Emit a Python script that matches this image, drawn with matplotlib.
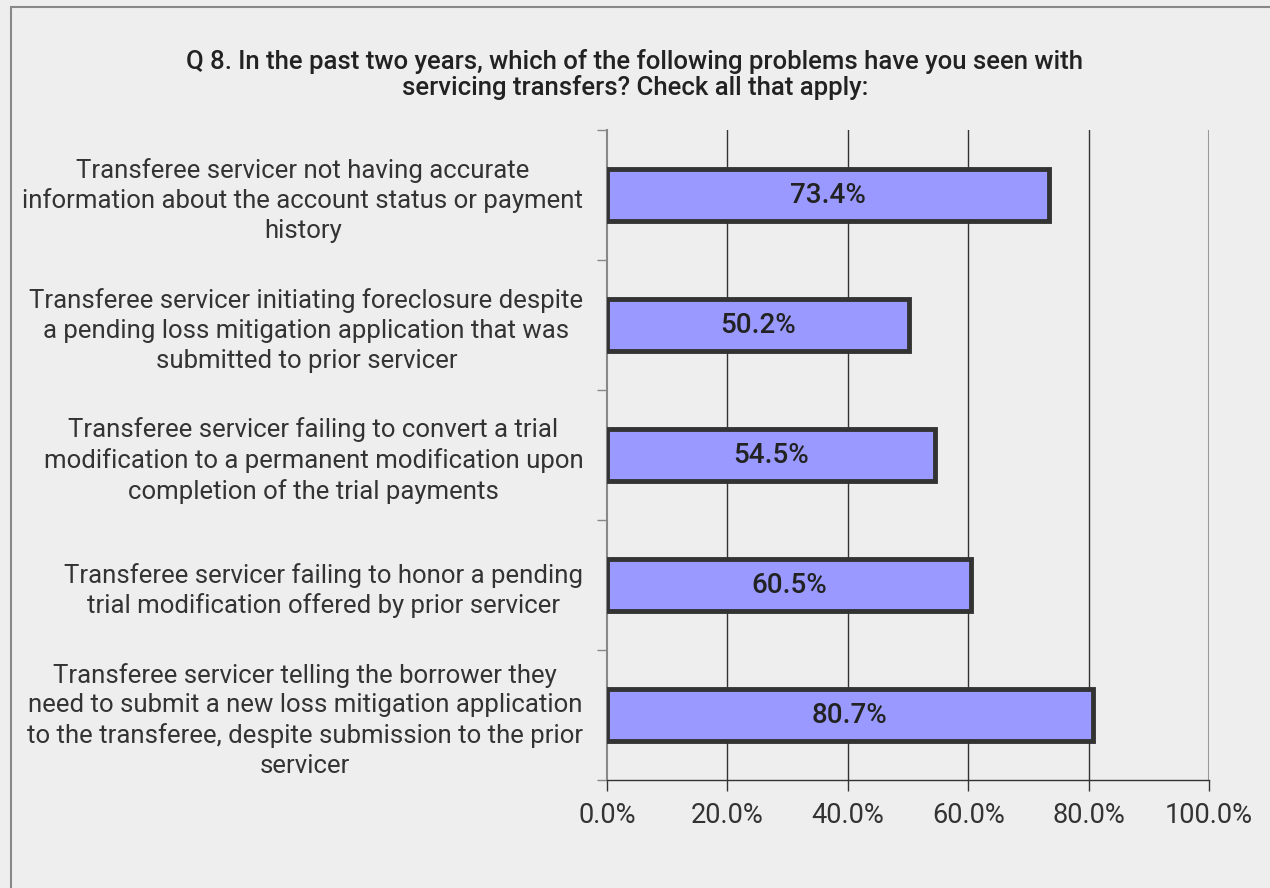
import matplotlib.pyplot as plt
from matplotlib.patches import Rectangle
import numpy as np

plt.rcParams['font.family'] = ['Roboto', 'DejaVu Sans']

categories = [
    "Transferee servicer not having accurate\ninformation about the account status or payment\nhistory",
    "Transferee servicer initiating foreclosure despite\na pending loss mitigation application that was\nsubmitted to prior servicer",
    "Transferee servicer failing to convert a trial\nmodification to a permanent modification upon\ncompletion of the trial payments",
    "Transferee servicer failing to honor a pending\ntrial modification offered by prior servicer",
    "Transferee servicer telling the borrower they\nneed to submit a new loss mitigation application\nto the transferee, despite submission to the prior\nservicer",
]
values = [73.4, 50.2, 54.5, 60.5, 80.7]
xticks = [0, 20, 40, 60, 80, 100]

title = ("Q 8. In the past two years, which of the following problems have you seen with\n"
         "servicing transfers? Check all that apply:")

bg = "#eeeeee"
fig = plt.figure(figsize=(12.7, 8.88), dpi=100, facecolor=bg)
ax = fig.add_axes([607 / 1270, 1 - 780 / 888, (1209 - 607) / 1270, 650 / 888])
ax.set_facecolor(bg)

# frame line around the chart area
fig.patches.append(Rectangle((11 / 1270, -0.1), 1.2, 1 - 7 / 888 + 0.1,
                             transform=fig.transFigure, fill=False,
                             edgecolor="#888888", linewidth=1.5))

y = np.arange(len(categories))
ax.barh(y, values, height=0.4, color="#9999ff", edgecolor="#333333",
        linewidth=3.5, zorder=3)
for yi, v in zip(y, values):
    ax.text(v / 2, yi, f"{v:.1f}%", ha="center", va="center",
            fontsize=20, fontweight="medium", color="#222222", zorder=4)

ax.set_xlim(0, 100)
ax.set_ylim(len(categories) - 0.5, -0.5)

for xv in xticks[1:-1]:
    ax.axvline(xv, color="#333333", linewidth=1, zorder=1)
ax.axvline(100, color="#999999", linewidth=1.5, zorder=1)

ax.set_xticks(xticks)
ax.set_xticklabels([f"{x:.1f}%" for x in xticks])
ax.tick_params(axis="x", length=8, width=1, color="#333333",
               labelsize=19.5, labelcolor="#333333", pad=8)

ax.set_yticks(y)
ax.set_yticklabels(categories, multialignment="center")
ax.tick_params(axis="y", which="major", length=0, labelsize=18.5,
               labelcolor="#333333", pad=17)
ax.set_yticks(np.arange(len(categories) + 1) - 0.5, minor=True)
ax.tick_params(axis="y", which="minor", length=7, width=1, color="#888888")
for lbl in ax.get_yticklabels():
    lbl.set_linespacing(1.3)

for s in ["top", "right"]:
    ax.spines[s].set_visible(False)
ax.spines["left"].set_color("#888888")
ax.spines["left"].set_linewidth(1.5)
ax.spines["bottom"].set_color("#333333")
ax.spines["bottom"].set_linewidth(1)

fig.text(0.5, 1 - 49 / 888, title, ha="center", va="top", fontsize=18.5,
         fontweight="medium", color="#222222", linespacing=1.05)

fig.savefig("out.png", dpi=100, facecolor=bg)
